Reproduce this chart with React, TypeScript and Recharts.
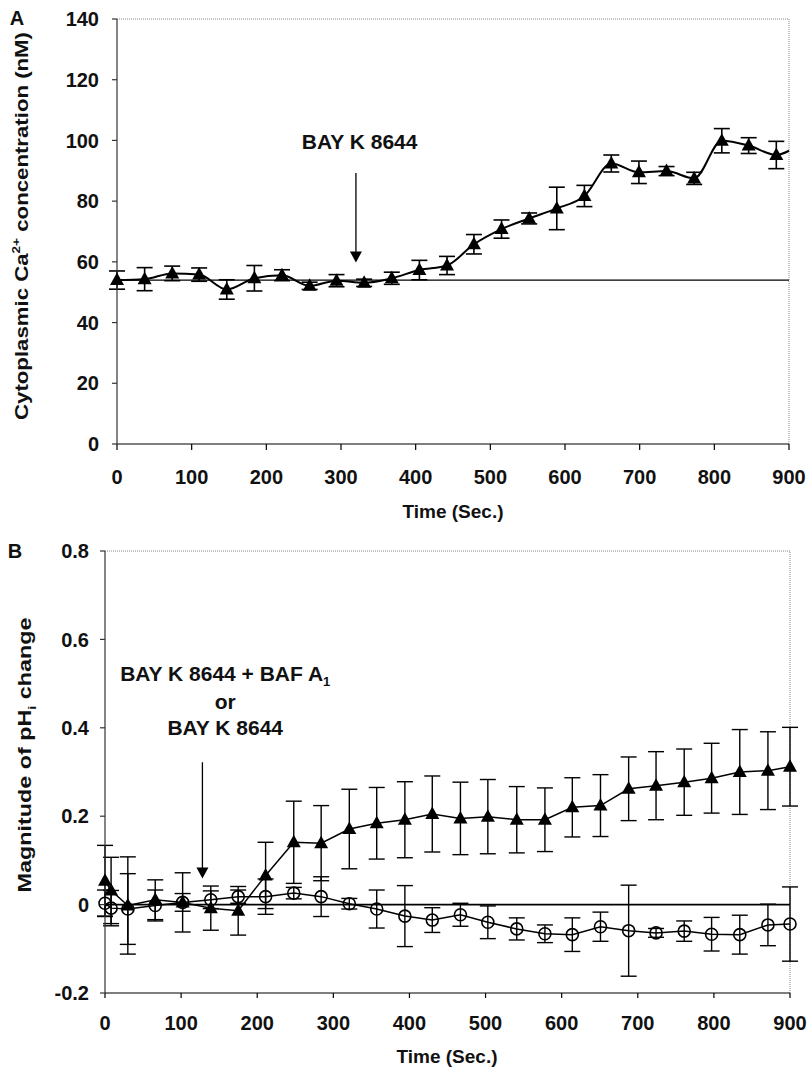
import {
    ComposedChart, Line, XAxis, YAxis, ErrorBar,
    ReferenceLine, ReferenceDot
} from 'recharts';

// Panel A: cytoplasmic Ca2+ (nM), mean and SEM
const timeA = [0, 37, 74, 110, 147, 184, 221, 258, 294, 331, 368, 405, 442, 478, 515, 552, 589, 626, 662, 699, 736, 773, 810, 846, 883];
const caMean = [54, 54.3, 56.2, 55.8, 50.9, 54.6, 55.6, 52.1, 53.8, 53.1, 54.6, 57.3, 58.8, 65.8, 70.8, 74.3, 77.6, 81.7, 92.4, 89.5, 89.9, 87.5, 99.9, 98.3, 95.2];
const caSem = [3, 3.8, 2.4, 2.2, 3.2, 4.2, 1.8, 1.2, 2, 1.2, 2, 3.2, 3, 3.2, 3, 1.8, 7, 3.5, 2.8, 3.7, 1.5, 2, 4, 2.6, 4.5];
const caTail = 96.6; // smoothed line runs on to the axis end
const caBaseline = 54;

// Panel B: magnitude of pHi change
const timeB = [0, 8, 30, 66, 102, 139, 175, 211, 248, 284, 321, 357, 394, 430, 467, 503, 541, 578, 614, 651, 688, 724, 761, 797, 834, 871, 900];
const phBayK = [0.054, 0.032, -0.002, 0.011, 0.005, -0.008, -0.014, 0.066, 0.141, 0.139, 0.171, 0.184, 0.192, 0.205, 0.195, 0.199, 0.192, 0.192, 0.22, 0.224, 0.262, 0.269, 0.277, 0.286, 0.3, 0.303, 0.312];
const phBayKSem = [0.08, 0.075, 0.11, 0.045, 0.02, 0.05, 0.055, 0.075, 0.093, 0.085, 0.09, 0.081, 0.086, 0.086, 0.082, 0.084, 0.075, 0.072, 0.067, 0.07, 0.072, 0.077, 0.075, 0.079, 0.096, 0.088, 0.089];
const phBayKBaf = [0.003, -0.008, -0.01, -0.002, 0.005, 0.011, 0.018, 0.018, 0.026, 0.018, 0.002, -0.01, -0.026, -0.035, -0.023, -0.04, -0.055, -0.066, -0.068, -0.05, -0.059, -0.064, -0.06, -0.067, -0.068, -0.046, -0.044];
const phBayKBafSem = [0.03, 0.04, 0.08, 0.035, 0.067, 0.02, 0.015, 0.04, 0.013, 0.045, 0.012, 0.043, 0.069, 0.028, 0.026, 0.037, 0.025, 0.02, 0.038, 0.033, 0.103, 0.01, 0.023, 0.038, 0.044, 0.047, 0.084];

const ticksTime = [0, 100, 200, 300, 400, 500, 600, 700, 800, 900];
const ticksCa = [0, 20, 40, 60, 80, 100, 120, 140];
const ticksPh = [-0.2, 0, 0.2, 0.4, 0.6, 0.8];

const dataA = timeA
    .map((t, i) => ({ t, ca: caMean[i], sem: caSem[i] }))
    .concat([{ t: 900, ca: caTail, sem: undefined as any }]);

const dataB = timeB.map((t, i) => ({
    t,
    up: phBayK[i], upSem: phBayKSem[i],
    flat: phBayKBaf[i], flatSem: phBayKBafSem[i],
}));

const FONT = '"Liberation Sans", Arial, Helvetica, sans-serif';
const tickStyle = { fill: '#111', fontSize: 20, fontWeight: 700, fontFamily: FONT };

const Triangle = ({ cx, cy }: any) => (
    <polygon points={`${cx},${cy - 7.5} ${cx - 7},${cy + 5} ${cx + 7},${cy + 5}`} fill="#000" />
);

const Circle = ({ cx, cy }: any) => (
    <circle cx={cx} cy={cy} r={6} fill="none" stroke="#000" strokeWidth={1.6} />
);

const ArrowHead = ({ cx, cy }: any) => (
    <polygon points={`${cx - 6},${cy - 11} ${cx + 6},${cy - 11} ${cx},${cy}`} fill="#000" />
);

const boldText = { fontFamily: FONT, fontWeight: 700, fill: '#111' } as const;

const NoteA = ({ cx, cy }: any) => (
    <text x={cx} y={cy} textAnchor="middle" fontSize={21} {...boldText}>BAY K 8644</text>
);

const NoteB = ({ cx, cy }: any) => (
    <g>
        <text x={cx} y={cy} textAnchor="middle" fontSize={21} {...boldText}>
            BAY K 8644 + BAF A<tspan fontSize={13} dy={5}>1</tspan>
        </text>
        <text x={cx} y={cy + 28} textAnchor="middle" fontSize={21} {...boldText}>or</text>
        <text x={cx} y={cy + 54} textAnchor="middle" fontSize={21} {...boldText}>BAY K 8644</text>
    </g>
);

const YTitleA = () => (
    <g>
        <text x={17} y={25} textAnchor="middle" fontSize={20} {...boldText}>A</text>
        <text transform="translate(28,226) rotate(-90)" textAnchor="middle" fontSize={18}
            textLength={388} lengthAdjust="spacingAndGlyphs" {...boldText}>
            Cytoplasmic Ca<tspan fontSize={11} dy={-8}>2+</tspan><tspan dy={8}> concentration (nM)</tspan>
        </text>
    </g>
);

const YTitleB = () => (
    <g>
        <text x={15} y={28} textAnchor="middle" fontSize={20} {...boldText}>B</text>
        <text transform="translate(31,225) rotate(-90)" textAnchor="middle" fontSize={18}
            textLength={275} lengthAdjust="spacingAndGlyphs" {...boldText}>
            Magnitude of pH<tspan fontSize={11} dy={5}>i</tspan><tspan dy={-5}> change</tspan>
        </text>
    </g>
);

// label props get the axis viewBox merged in, so keep own coordinates under other names
const XTitle = ({ cxT, baseY }: any) => (
    <text x={cxT} y={baseY} textAnchor="middle" fontSize={19} {...boldText}>Time (Sec.)</text>
);

export default function App() {
    return (
        <div style={{ position: 'absolute', left: 0, top: 0, width: 810, height: 1072, background: '#fff' }}>
            <div style={{ position: 'absolute', left: 0, top: 0 }}>
                <ComposedChart width={810} height={530} data={dataA}
                    margin={{ top: 19, right: 21, left: 0, bottom: 26 }}>
                    <XAxis dataKey="t" type="number" domain={[0, 900]} ticks={ticksTime}
                        height={60} tick={tickStyle} tickSize={6} tickMargin={20}
                        stroke="#000" strokeWidth={1.2} label={<XTitle cxT={453} baseY={518} />} />
                    <YAxis type="number" domain={[0, 140]} ticks={ticksCa} width={117}
                        tick={tickStyle} tickSize={5} tickMargin={13}
                        stroke="#333" strokeWidth={1.2} label={<YTitleA />} />
                    <ReferenceLine y={140} stroke="#888" strokeDasharray="1 1" />
                    <ReferenceLine x={900} stroke="#888" strokeDasharray="1 1" />
                    <ReferenceLine y={caBaseline} stroke="#000" strokeWidth={1.3} />
                    <ReferenceLine segment={[{ x: 320, y: 89.3 }, { x: 320, y: 62 }]} stroke="#000" strokeWidth={1.3} />
                    <ReferenceDot x={320} y={59.8} r={0} shape={<ArrowHead />} />
                    <ReferenceDot x={325} y={97.2} r={0} shape={<NoteA />} />
                    <Line dataKey="ca" type="monotone" stroke="#000" strokeWidth={2}
                        dot={(p: any) => p.payload.sem == null
                            ? <g key={p.index} />
                            : <Triangle key={p.index} cx={p.cx} cy={p.cy} />}
                        isAnimationActive={false}>
                        <ErrorBar dataKey="sem" direction="y" width={8} stroke="#000" strokeWidth={1.6} />
                    </Line>
                </ComposedChart>
            </div>
            <div style={{ position: 'absolute', left: 0, top: 530 }}>
                <ComposedChart width={810} height={542} data={dataB}
                    margin={{ top: 21, right: 20, left: 0, bottom: 19 }}>
                    <XAxis dataKey="t" type="number" domain={[0, 900]} ticks={ticksTime}
                        height={60} tick={tickStyle} tickSize={5} tickMargin={18}
                        stroke="#000" strokeWidth={1.2} label={<XTitle cxT={447} baseY={533} />} />
                    <YAxis type="number" domain={[-0.2, 0.8]} ticks={ticksPh} width={105}
                        tick={tickStyle} tickSize={5} tickMargin={11}
                        tickFormatter={(v: number) => String(v)}
                        stroke="#333" strokeWidth={1.2} label={<YTitleB />} />
                    <ReferenceLine y={0.8} stroke="#888" strokeDasharray="1 1" />
                    <ReferenceLine x={900} stroke="#888" strokeDasharray="1 1" />
                    <ReferenceLine y={0} stroke="#000" strokeWidth={1.6} />
                    <ReferenceLine segment={[{ x: 128, y: 0.322 }, { x: 128, y: 0.08 }]} stroke="#000" strokeWidth={1.3} />
                    <ReferenceDot x={128} y={0.059} r={0} shape={<ArrowHead />} />
                    <ReferenceDot x={158} y={0.507} r={0} shape={<NoteB />} />
                    <Line dataKey="up" type="linear" stroke="#000" strokeWidth={1.5}
                        dot={(p: any) => <Triangle key={p.index} cx={p.cx} cy={p.cy} />}
                        isAnimationActive={false}>
                        <ErrorBar dataKey="upSem" direction="y" width={8} stroke="#000" strokeWidth={1.4} />
                    </Line>
                    <Line dataKey="flat" type="linear" stroke="#000" strokeWidth={1.5}
                        dot={(p: any) => <Circle key={p.index} cx={p.cx} cy={p.cy} />}
                        isAnimationActive={false}>
                        <ErrorBar dataKey="flatSem" direction="y" width={8} stroke="#000" strokeWidth={1.4} />
                    </Line>
                </ComposedChart>
            </div>
        </div>
    );
}
